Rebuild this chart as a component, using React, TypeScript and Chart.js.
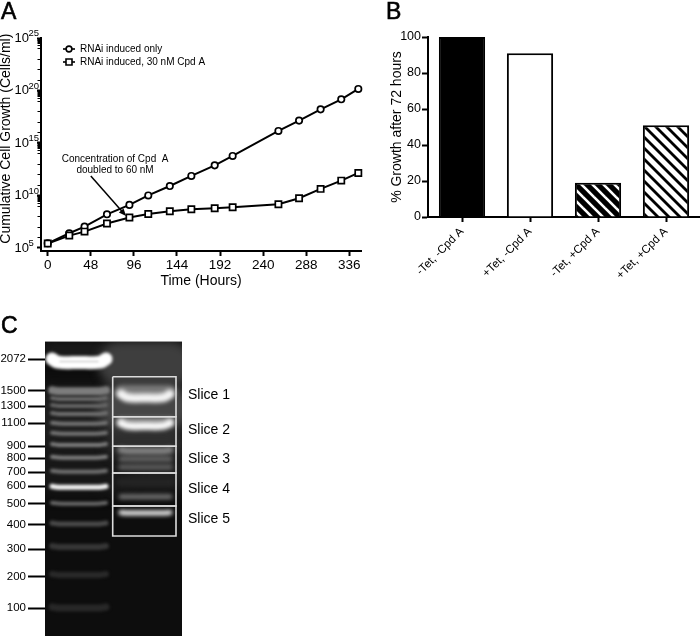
import React, { useEffect, useRef } from "react";
import { Chart, registerables } from "chart.js";

Chart.register(...registerables);

const FONT = "'Liberation Sans', Arial, sans-serif";

// Panel A
const hours = [0, 24, 41, 66, 91, 112, 136, 160, 186, 206, 257, 280, 304, 327, 346];
const inducedOnly = [2.75e5, 2.5e6, 1.07e7, 1.6e8, 1.26e9, 1e10, 7.9e10, 7.2e11, 7.4e12, 5.8e13, 1.4e16, 1.35e17, 1.6e18, 1.45e19, 1.4e20];
const withCpdA = [2.6e5, 1.5e6, 3.6e6, 2.1e7, 7.8e7, 1.7e8, 3.1e8, 4.8e8, 6e8, 7.4e8, 1.45e9, 5.4e9, 4.2e10, 2.6e11, 1.4e12];
const seriesNames = ["RNAi induced only", "RNAi induced, 30 nM Cpd A"];
const hourTicks = [0, 48, 96, 144, 192, 240, 288, 336];
const growthTicks = [1e5, 1e10, 1e15, 1e20, 1e25];
const growthExponents = ["5", "10", "15", "20", "25"];
const noteLines = ["Concentration of Cpd  A", "doubled to 60 nM"];
const noteHours = [75, 75];
const noteValues = [3e13, 2.7e12];
const arrowHours = [48, 87.3];
const arrowValues = [7e11, 1.1e8];

// Panel B
const conditions = ["-Tet, -Cpd A", "+Tet, -Cpd A", "-Tet, +Cpd A", "+Tet, +Cpd A"];
const growthPercent = [100, 91, 19, 51];

// Panel C (migration distance down the gel)
const ladderLabels = ["2072", "1500", "1300", "1100", "900", "800", "700", "600", "500", "400", "300", "200", "100"];
const ladderLabelDist = [17.3, 48.7, 64, 81.3, 104.3, 116.3, 130, 144.3, 161.7, 182.7, 207.3, 234.7, 266];
const ladderBandDist = [49.3, 57, 64, 72, 81.7, 91.7, 103, 115.7, 129.7, 145.3, 161.7, 182, 205, 233, 266];
const ladderBandGray = [125, 110, 105, 115, 118, 118, 128, 128, 115, 245, 105, 75, 55, 42, 40];
const ladderBandThick = [8, 4, 4, 4, 4, 4, 4, 4, 4, 5, 4, 5, 6, 6, 7];
const sampleBandDist = [49, 56, 79, 84, 109, 117, 125, 140, 154.7, 171];
const sampleBandGray = [120, 245, 125, 250, 130, 105, 90, 36, 115, 240];
const sampleBandThick = [12, 9, 8, 8, 7, 5, 6, 8, 5, 5];
const sampleBandSmile = [0, 4, 0, 3, 1, 0, 0, 0, 0, 0.5];
const sliceLabels = ["Slice 1", "Slice 2", "Slice 3", "Slice 4", "Slice 5"];
const sliceLabelDist = [53.3, 88.3, 116.7, 146.7, 177.3];
const sliceEdges = [34.7, 74.7, 104.3, 131, 164, 194];
const LANE1 = [7, 61];
const LANE2 = [76, 125];
const BOX = [67.7, 131];

function hatch(bg: string, fg: string, w: number) {
  const c = document.createElement("canvas");
  c.width = 11;
  c.height = 11;
  const g = c.getContext("2d")!;
  g.fillStyle = bg;
  g.fillRect(0, 0, 11, 11);
  g.strokeStyle = fg;
  g.lineWidth = w;
  g.lineCap = "square";
  for (const o of [-11, 0, 11]) {
    g.beginPath();
    g.moveTo(o, 0);
    g.lineTo(o + 11, 11);
    g.stroke();
  }
  return g.createPattern(c, "repeat")!;
}

function legendGlyph(kind: "circle" | "rect") {
  const c = document.createElement("canvas");
  c.width = 12;
  c.height = 10;
  const g = c.getContext("2d")!;
  g.strokeStyle = "#000";
  g.lineWidth = 1.6;
  g.beginPath();
  g.moveTo(0, 5);
  g.lineTo(12, 5);
  g.stroke();
  g.fillStyle = "#fff";
  g.beginPath();
  if (kind === "circle") g.arc(6, 5, 2.9, 0, Math.PI * 2);
  else g.rect(3, 2, 6, 6);
  g.fill();
  g.stroke();
  return c;
}

const panelLetter = (text: string, x: number, y: number) => ({
  id: "letter" + text,
  afterDraw(chart: any) {
    const g = chart.ctx;
    g.save();
    g.font = `23px ${FONT}`;
    g.fillStyle = "#000";
    g.strokeStyle = "#000";
    g.lineWidth = 0.6;
    g.textBaseline = "alphabetic";
    g.fillText(text, x, y);
    g.strokeText(text, x, y);
    g.restore();
  },
});

const base = { responsive: false, animation: false as const, events: [] as string[] };

function useChart(make: (c: HTMLCanvasElement) => Chart) {
  const ref = useRef<HTMLCanvasElement>(null);
  useEffect(() => {
    const chart = make(ref.current!);
    return () => chart.destroy();
  }, []);
  return ref;
}

function makeGrowth(canvas: HTMLCanvasElement) {
  const extras = {
    id: "growthExtras",
    beforeDraw(chart: any) {
      chart.legend.left = 60;
      chart.legend.top = 41;
    },
    afterDatasetsDraw(chart: any) {
      const { ctx: g, scales } = chart;
      const { x, y } = scales;
      g.save();
      g.fillStyle = "#000";
      g.strokeStyle = "#000";
      g.font = `10px ${FONT}`;
      g.textAlign = "center";
      g.textBaseline = "middle";
      noteLines.forEach((t, i) => g.fillText(t, x.getPixelForValue(noteHours[i]), y.getPixelForValue(noteValues[i])));
      const x0 = x.getPixelForValue(arrowHours[0]);
      const y0 = y.getPixelForValue(arrowValues[0]);
      const x1 = x.getPixelForValue(arrowHours[1]);
      const y1 = y.getPixelForValue(arrowValues[1]);
      const a = Math.atan2(y1 - y0, x1 - x0);
      g.lineWidth = 1.5;
      g.beginPath();
      g.moveTo(x0, y0);
      g.lineTo(x1 - 5 * Math.cos(a), y1 - 5 * Math.sin(a));
      g.stroke();
      g.beginPath();
      g.moveTo(x1, y1);
      g.lineTo(x1 - 8 * Math.cos(a - 0.4), y1 - 8 * Math.sin(a - 0.4));
      g.lineTo(x1 - 8 * Math.cos(a + 0.4), y1 - 8 * Math.sin(a + 0.4));
      g.closePath();
      g.fill();
      // exponents of the "10" tick labels
      g.font = `9.5px ${FONT}`;
      g.textAlign = "left";
      growthTicks.forEach((v, i) => g.fillText(growthExponents[i], 28.5, y.getPixelForValue(v) - 4.5));
      // minor log ticks
      const left = chart.chartArea.left - 1;
      g.lineWidth = 1;
      const tick = (v: number) => {
        const p = Math.round(y.getPixelForValue(v)) + 0.5;
        g.beginPath();
        g.moveTo(left, p);
        g.lineTo(left - 2.5, p);
        g.stroke();
      };
      for (let e = 6; e < 25; e++) tick(Number(`1e${e}`));
      for (const e of [9, 14, 19, 24]) for (let m = 2; m < 10; m++) tick(Number(`${m}e${e}`));
      g.restore();
    },
  };
  const glyphs = [legendGlyph("circle"), legendGlyph("rect")];
  return new Chart(canvas, {
    type: "line",
    data: {
      datasets: [
        { label: seriesNames[0], data: hours.map((h, i) => ({ x: h, y: inducedOnly[i] })), pointStyle: "circle", pointRadius: 3.2, order: 2 },
        { label: seriesNames[1], data: hours.map((h, i) => ({ x: h, y: withCpdA[i] })), pointStyle: "rect", pointRadius: 4.4, order: 1 },
      ].map((d) => ({ ...d, borderColor: "#000", borderWidth: 2, tension: 0, pointBackgroundColor: "#fff", pointBorderColor: "#000", pointBorderWidth: 1.7, clip: false as any })),
    },
    options: {
      ...base,
      layout: { padding: { top: 38, right: 14 } },
      plugins: {
        tooltip: { enabled: false },
        legend: {
          position: "chartArea" as any,
          align: "start",
          labels: {
            usePointStyle: true,
            pointStyleWidth: 12,
            padding: 3,
            color: "#000",
            font: { family: FONT, size: 10 },
            generateLabels: () =>
              seriesNames.map((text, i) => ({ text, pointStyle: glyphs[i] as any, datasetIndex: i, hidden: false, lineWidth: 0, fontColor: "#000" })),
          },
        },
      },
      scales: {
        x: {
          type: "linear",
          min: -7.5,
          max: 349,
          afterBuildTicks: (s: any) => { s.ticks = hourTicks.map((value) => ({ value })); },
          afterFit: (s: any) => { s.height = 49; },
          border: { color: "#000", width: 2 },
          grid: { drawOnChartArea: false, tickLength: 5, tickWidth: 2, tickColor: "#000" },
          ticks: { color: "#000", font: { family: FONT, size: 13.5 }, padding: 1, maxRotation: 0, autoSkip: false },
          title: { display: true, text: "Time (Hours)", color: "#000", font: { family: FONT, size: 14 }, padding: { top: 0, bottom: 10 } },
        },
        y: {
          type: "logarithmic",
          min: 5.1e4,
          max: 1e25,
          afterBuildTicks: (s: any) => { s.ticks = growthTicks.map((value) => ({ value })); },
          afterFit: (s: any) => { s.width = 41; },
          border: { color: "#000", width: 2 },
          grid: { drawOnChartArea: false, tickLength: 4, tickWidth: 2, tickColor: "#000" },
          ticks: {
            color: "#000",
            font: { family: FONT, size: 13 },
            padding: 8,
            autoSkip: false,
            callback: () => "10",
          },
          title: { display: true, text: "   Cumulative Cell Growth (Cells/ml)", color: "#000", font: { family: FONT, size: 14, lineHeight: 0.9 }, padding: 0 },
        },
      },
    },
    plugins: [extras, panelLetter("A", 1, 19)],
  } as any);
}

function makeBars(canvas: HTMLCanvasElement) {
  return new Chart(canvas, {
    type: "bar",
    data: {
      labels: conditions,
      datasets: [
        {
          data: growthPercent,
          backgroundColor: ["#000", "#fff", hatch("#000", "#fff", 2.6), hatch("#fff", "#000", 2.8)],
          borderColor: "#000",
          borderWidth: 2,
          borderSkipped: "bottom",
          barPercentage: 0.68,
          categoryPercentage: 1,
          clip: false as any,
        },
      ],
    },
    options: {
      ...base,
      layout: { padding: { top: 37 } },
      plugins: { legend: { display: false }, tooltip: { enabled: false } },
      scales: {
        x: {
          afterFit: (s: any) => { s.height = 83; },
          border: { color: "#000", width: 2 },
          grid: { offset: false, drawOnChartArea: false, tickLength: 5, tickWidth: 2, tickColor: "#000" },
          ticks: { color: "#000", font: { family: FONT, size: 11.5 }, minRotation: 45, maxRotation: 45, padding: 3, autoSkip: false },
        },
        y: {
          min: 0,
          max: 100,
          afterFit: (s: any) => { s.width = 53; },
          border: { color: "#000", width: 2 },
          grid: { drawOnChartArea: false, tickLength: 6, tickWidth: 2, tickColor: "#000" },
          ticks: { color: "#000", font: { family: FONT, size: 12.5 }, stepSize: 20, padding: 1 },
          title: { display: true, text: "% Growth after 72 hours", color: "#000", font: { family: FONT, size: 14, lineHeight: 1 }, padding: { top: 15, bottom: 0 } },
        },
      },
    },
    plugins: [panelLetter("B", 11, 19)],
  } as any);
}

function bandLine(range: number[], dist: number, gray: number, thick: number, smile: number, blur: number, order: number) {
  const [a, b] = range;
  return {
    data: [
      { x: a, y: dist - smile },
      { x: a + 6, y: dist - smile * 0.12 },
      { x: (a + b) / 2, y: dist },
      { x: b - 6, y: dist - smile * 0.12 },
      { x: b, y: dist - smile },
    ],
    borderColor: `rgb(${gray},${gray},${gray})`,
    borderWidth: thick,
    borderCapStyle: "round",
    tension: 0.4,
    pointRadius: 0,
    blur,
    order,
  };
}

function makeGel(canvas: HTMLCanvasElement) {
  const glow = {
    id: "gelGlow",
    beforeDraw(chart: any) {
      const { ctx: g, chartArea: a } = chart;
      g.save();
      g.fillStyle = "#0d0d0d";
      g.fillRect(a.left, a.top, a.right - a.left, a.bottom - a.top);
      g.fillStyle = "#9a9a9a";
      g.fillRect(a.left, a.top - 1, a.right - a.left, 1);
      g.restore();
    },
    beforeDatasetDraw(chart: any, args: any) {
      const blur = chart.data.datasets[args.index].blur;
      chart.ctx.save();
      if (blur) chart.ctx.filter = `blur(${blur}px)`;
    },
    afterDatasetDraw(chart: any) {
      chart.ctx.restore();
    },
  };
  const datasets: any[] = [
    // lane hazes
    bandLine(LANE2, 22, 62, 46, 0, 5, 9),
    bandLine(LANE2, 65, 70, 46, 0, 6, 9),
    bandLine(LANE2, 100, 46, 30, 0, 6, 9),
    bandLine(LANE1, 8, 26, 18, 0, 5, 9),
    bandLine(LANE1, 75, 30, 60, 0, 8, 9),
    bandLine(LANE1, 125, 24, 50, 0, 8, 9),
    bandLine(LANE2, 130, 32, 40, 0, 8, 9),
    // ladder top band
    bandLine(LANE1, 20.5, 255, 13, 3.5, 1.6, 3),
    bandLine([LANE1[0] + 8, LANE1[1] - 8], 19.5, 205, 1.5, 0, 1, 2),
    // ladder bands
    ...ladderBandDist.map((d, i) => bandLine(LANE1, d, ladderBandGray[i], ladderBandThick[i], 1, 1.8, 3)),
    // sample bands, the brightest on top
    ...sampleBandDist.map((d, i) => bandLine(LANE2, d, sampleBandGray[i], sampleBandThick[i], sampleBandSmile[i], 2.2, sampleBandGray[i] > 200 ? 1 : 4)),
    // slice boxes
    ...sliceEdges.slice(0, -1).map((top, i) => ({
      data: [
        { x: BOX[0], y: top },
        { x: BOX[1], y: top },
        { x: BOX[1], y: sliceEdges[i + 1] },
        { x: BOX[0], y: sliceEdges[i + 1] },
        { x: BOX[0], y: top },
      ],
      borderColor: "#dcdcdc",
      borderWidth: 1.6,
      tension: 0,
      pointRadius: 0,
      order: 0,
    })),
  ];
  const noMargins = (s: any, w: number) => {
    s.width = w;
    s.paddingTop = 0;
    s.paddingBottom = 0;
  };
  return new Chart(canvas, {
    type: "line",
    data: { datasets },
    options: {
      ...base,
      layout: { padding: { top: 32, right: 8 } },
      plugins: { legend: { display: false }, tooltip: { enabled: false } },
      scales: {
        x: { type: "linear", min: 0, max: 137, display: false },
        y: {
          min: 0,
          max: 294,
          reverse: true,
          afterBuildTicks: (s: any) => { s.ticks = ladderLabelDist.map((value) => ({ value })); },
          afterFit: (s: any) => noMargins(s, 45),
          border: { display: false },
          grid: { drawOnChartArea: false, tickLength: 17, tickWidth: 2, tickColor: "#000" },
          ticks: { color: "#000", font: { family: FONT, size: 11.5 }, padding: 2, autoSkip: false, callback: (_v: any, i: number) => ladderLabels[i] },
        },
        y1: {
          position: "right",
          min: 0,
          max: 294,
          reverse: true,
          afterBuildTicks: (s: any) => { s.ticks = sliceLabelDist.map((value) => ({ value })); },
          afterFit: (s: any) => noMargins(s, 70),
          border: { display: false },
          grid: { display: false, drawTicks: false },
          ticks: { color: "#000", font: { family: FONT, size: 14 }, padding: 6, autoSkip: false, callback: (_v: any, i: number) => sliceLabels[i] },
        },
      },
    },
    plugins: [glow, panelLetter("C", 1, 23)],
  } as any);
}

export default function App() {
  const a = useChart(makeGrowth);
  const b = useChart(makeBars);
  const c = useChart(makeGel);
  return (
    <div style={{ position: "absolute", left: 0, top: 0, width: 700, height: 636, background: "#fff", overflow: "hidden" }}>
      <canvas ref={a} width={375} height={300} style={{ position: "absolute", left: 0, top: 0 }} />
      <canvas ref={b} width={325} height={300} style={{ position: "absolute", left: 375, top: 0 }} />
      <canvas ref={c} width={260} height={326} style={{ position: "absolute", left: 0, top: 310 }} />
    </div>
  );
}
